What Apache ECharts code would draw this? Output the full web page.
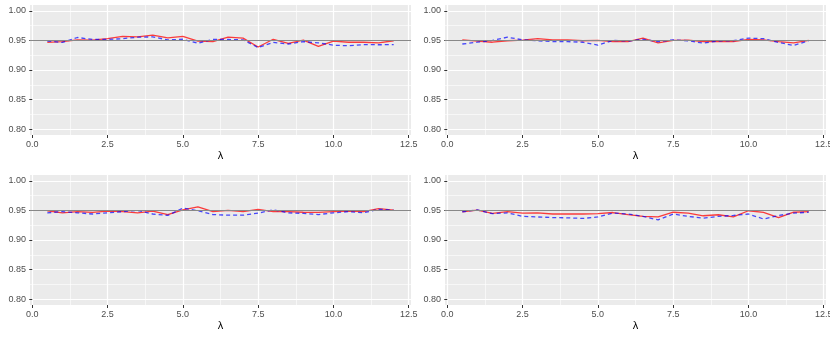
<!DOCTYPE html>
<html>
<head>
<meta charset="utf-8">
<script src="https://cdn.jsdelivr.net/npm/echarts@6/dist/echarts.min.js"></script>
<style>
html, body { margin: 0; padding: 0; background: #fff; }
#chart { width: 830px; height: 340px; }
</style>
</head>
<body>
<div id="chart"></div>
<script>
// lambda grid (x values)
var lambda = [0.5, 1, 1.5, 2, 2.5, 3, 3.5, 4, 4.5, 5, 5.5, 6, 6.5, 7, 7.5, 8, 8.5, 9, 9.5, 10, 10.5, 11, 11.5, 12];
var xTicks = [0, 2.5, 5, 7.5, 10, 12.5];
var xMinor = [1.25, 3.75, 6.25, 8.75, 11.25];
var yTicks = [0.80, 0.85, 0.90, 0.95, 1.00];
var yMinor = [0.825, 0.875, 0.925, 0.975];
var target = 0.95;

// coverage, top-left panel
var redA  = [0.9466, 0.948, 0.951, 0.9505, 0.953, 0.957, 0.956, 0.959, 0.9545, 0.957, 0.949, 0.948, 0.9555, 0.954, 0.939, 0.952, 0.945, 0.9505, 0.940, 0.949, 0.947, 0.947, 0.946, 0.9495];
var blueA = [0.949, 0.9466, 0.955, 0.9517, 0.9517, 0.953, 0.9555, 0.956, 0.951, 0.952, 0.9455, 0.9517, 0.9517, 0.951, 0.938, 0.9466, 0.944, 0.948, 0.946, 0.942, 0.941, 0.943, 0.9427, 0.943];
// top-right panel
var redB  = [0.951, 0.949, 0.947, 0.9495, 0.9505, 0.953, 0.951, 0.951, 0.9495, 0.950, 0.948, 0.948, 0.954, 0.946, 0.950, 0.9505, 0.948, 0.948, 0.948, 0.9517, 0.951, 0.948, 0.946, 0.950];
var blueB = [0.944, 0.947, 0.950, 0.9555, 0.951, 0.9495, 0.948, 0.948, 0.947, 0.942, 0.950, 0.949, 0.952, 0.948, 0.951, 0.9495, 0.9455, 0.949, 0.9495, 0.954, 0.953, 0.9466, 0.9415, 0.9495];
// bottom-left panel
var redC  = [0.9495, 0.946, 0.948, 0.9466, 0.949, 0.948, 0.946, 0.949, 0.943, 0.951, 0.956, 0.948, 0.950, 0.948, 0.952, 0.948, 0.948, 0.947, 0.9466, 0.948, 0.949, 0.948, 0.953, 0.9505];
var blueC = [0.946, 0.948, 0.946, 0.944, 0.946, 0.948, 0.950, 0.944, 0.9415, 0.954, 0.9495, 0.943, 0.942, 0.942, 0.9455, 0.951, 0.946, 0.945, 0.943, 0.946, 0.948, 0.946, 0.952, 0.9505];
// bottom-right panel
var redD  = [0.9478, 0.9505, 0.945, 0.948, 0.9455, 0.946, 0.944, 0.944, 0.944, 0.9445, 0.9465, 0.943, 0.940, 0.939, 0.947, 0.9455, 0.941, 0.9427, 0.939, 0.9495, 0.9466, 0.938, 0.947, 0.948];
var blueD = [0.9478, 0.951, 0.9445, 0.946, 0.940, 0.939, 0.938, 0.9375, 0.9365, 0.939, 0.9455, 0.944, 0.940, 0.934, 0.944, 0.940, 0.937, 0.940, 0.9415, 0.944, 0.9355, 0.9415, 0.9455, 0.947];

var panels = [
  { red: redA, blue: blueA, left: 30,  top: 5 },
  { red: redB, blue: blueB, left: 445, top: 5 },
  { red: redC, blue: blueC, left: 30,  top: 175 },
  { red: redD, blue: blueD, left: 445, top: 175 }
];

function pairs(vals) {
  return lambda.map(function (x, i) { return [x, vals[i]]; });
}

var font = 'Liberation Sans, Arial, sans-serif';
var grids = [], xAxes = [], yAxes = [], series = [];

panels.forEach(function (p, i) {
  grids.push({
    left: p.left, top: p.top, width: 381, height: 130,
    show: true, backgroundColor: '#EBEBEB', borderWidth: 0,
    containLabel: false, outerBoundsMode: 'none'
  });
  // major x axis
  xAxes.push({
    type: 'value', gridIndex: i, min: -0.075, max: 12.575,
    name: 'λ', nameLocation: 'middle', nameGap: 15,
    nameTextStyle: { fontFamily: font, fontSize: 11, color: '#000' },
    axisLine: { show: false },
    axisTick: { show: true, length: 3, customValues: xTicks, lineStyle: { color: '#333', width: 1 } },
    axisLabel: { customValues: xTicks, margin: 5, fontFamily: font, fontSize: 9, color: '#4d4d4d',
      formatter: function (v) { return v.toFixed(1); } },
    splitLine: { show: true, lineStyle: { color: '#fff', width: 1.2 } }
  });
  // minor x grid
  xAxes.push({
    type: 'value', gridIndex: i, min: -0.075, max: 12.575, position: 'bottom',
    axisLine: { show: false }, axisLabel: { show: false },
    axisTick: { show: false, customValues: xMinor },
    splitLine: { show: true, lineStyle: { color: '#fff', width: 0.6 } }
  });
  yAxes.push({
    type: 'value', gridIndex: i, min: 0.79, max: 1.01,
    axisLine: { show: false },
    axisTick: { show: true, length: 3, customValues: yTicks, lineStyle: { color: '#333', width: 1 } },
    axisLabel: { customValues: yTicks, margin: 4, fontFamily: font, fontSize: 9, color: '#4d4d4d',
      formatter: function (v) { return v.toFixed(2); } },
    splitLine: { show: true, lineStyle: { color: '#fff', width: 1.2 } }
  });
  yAxes.push({
    type: 'value', gridIndex: i, min: 0.79, max: 1.01, position: 'left',
    axisLine: { show: false }, axisLabel: { show: false },
    axisTick: { show: false, customValues: yMinor },
    splitLine: { show: true, lineStyle: { color: '#fff', width: 0.6 } }
  });

  series.push({
    type: 'line', xAxisIndex: 2 * i, yAxisIndex: 2 * i,
    data: pairs(p.red), showSymbol: false, silent: true,
    lineStyle: { color: 'rgba(255,0,0,0.75)', width: 1.3 },
    markLine: {
      silent: true, symbol: 'none', label: { show: false },
      lineStyle: { color: '#888', type: 'solid', width: 1 },
      data: [{ yAxis: target }]
    }
  });
  series.push({
    type: 'line', xAxisIndex: 2 * i, yAxisIndex: 2 * i,
    data: pairs(p.blue), showSymbol: false, silent: true,
    lineStyle: { color: 'rgba(0,0,255,0.7)', width: 1.3, type: [4, 3] }
  });
});

var chart = echarts.init(document.getElementById('chart'));
chart.setOption({
  animation: false,
  grid: grids,
  xAxis: xAxes,
  yAxis: yAxes,
  series: series
});
</script>
</body>
</html>
